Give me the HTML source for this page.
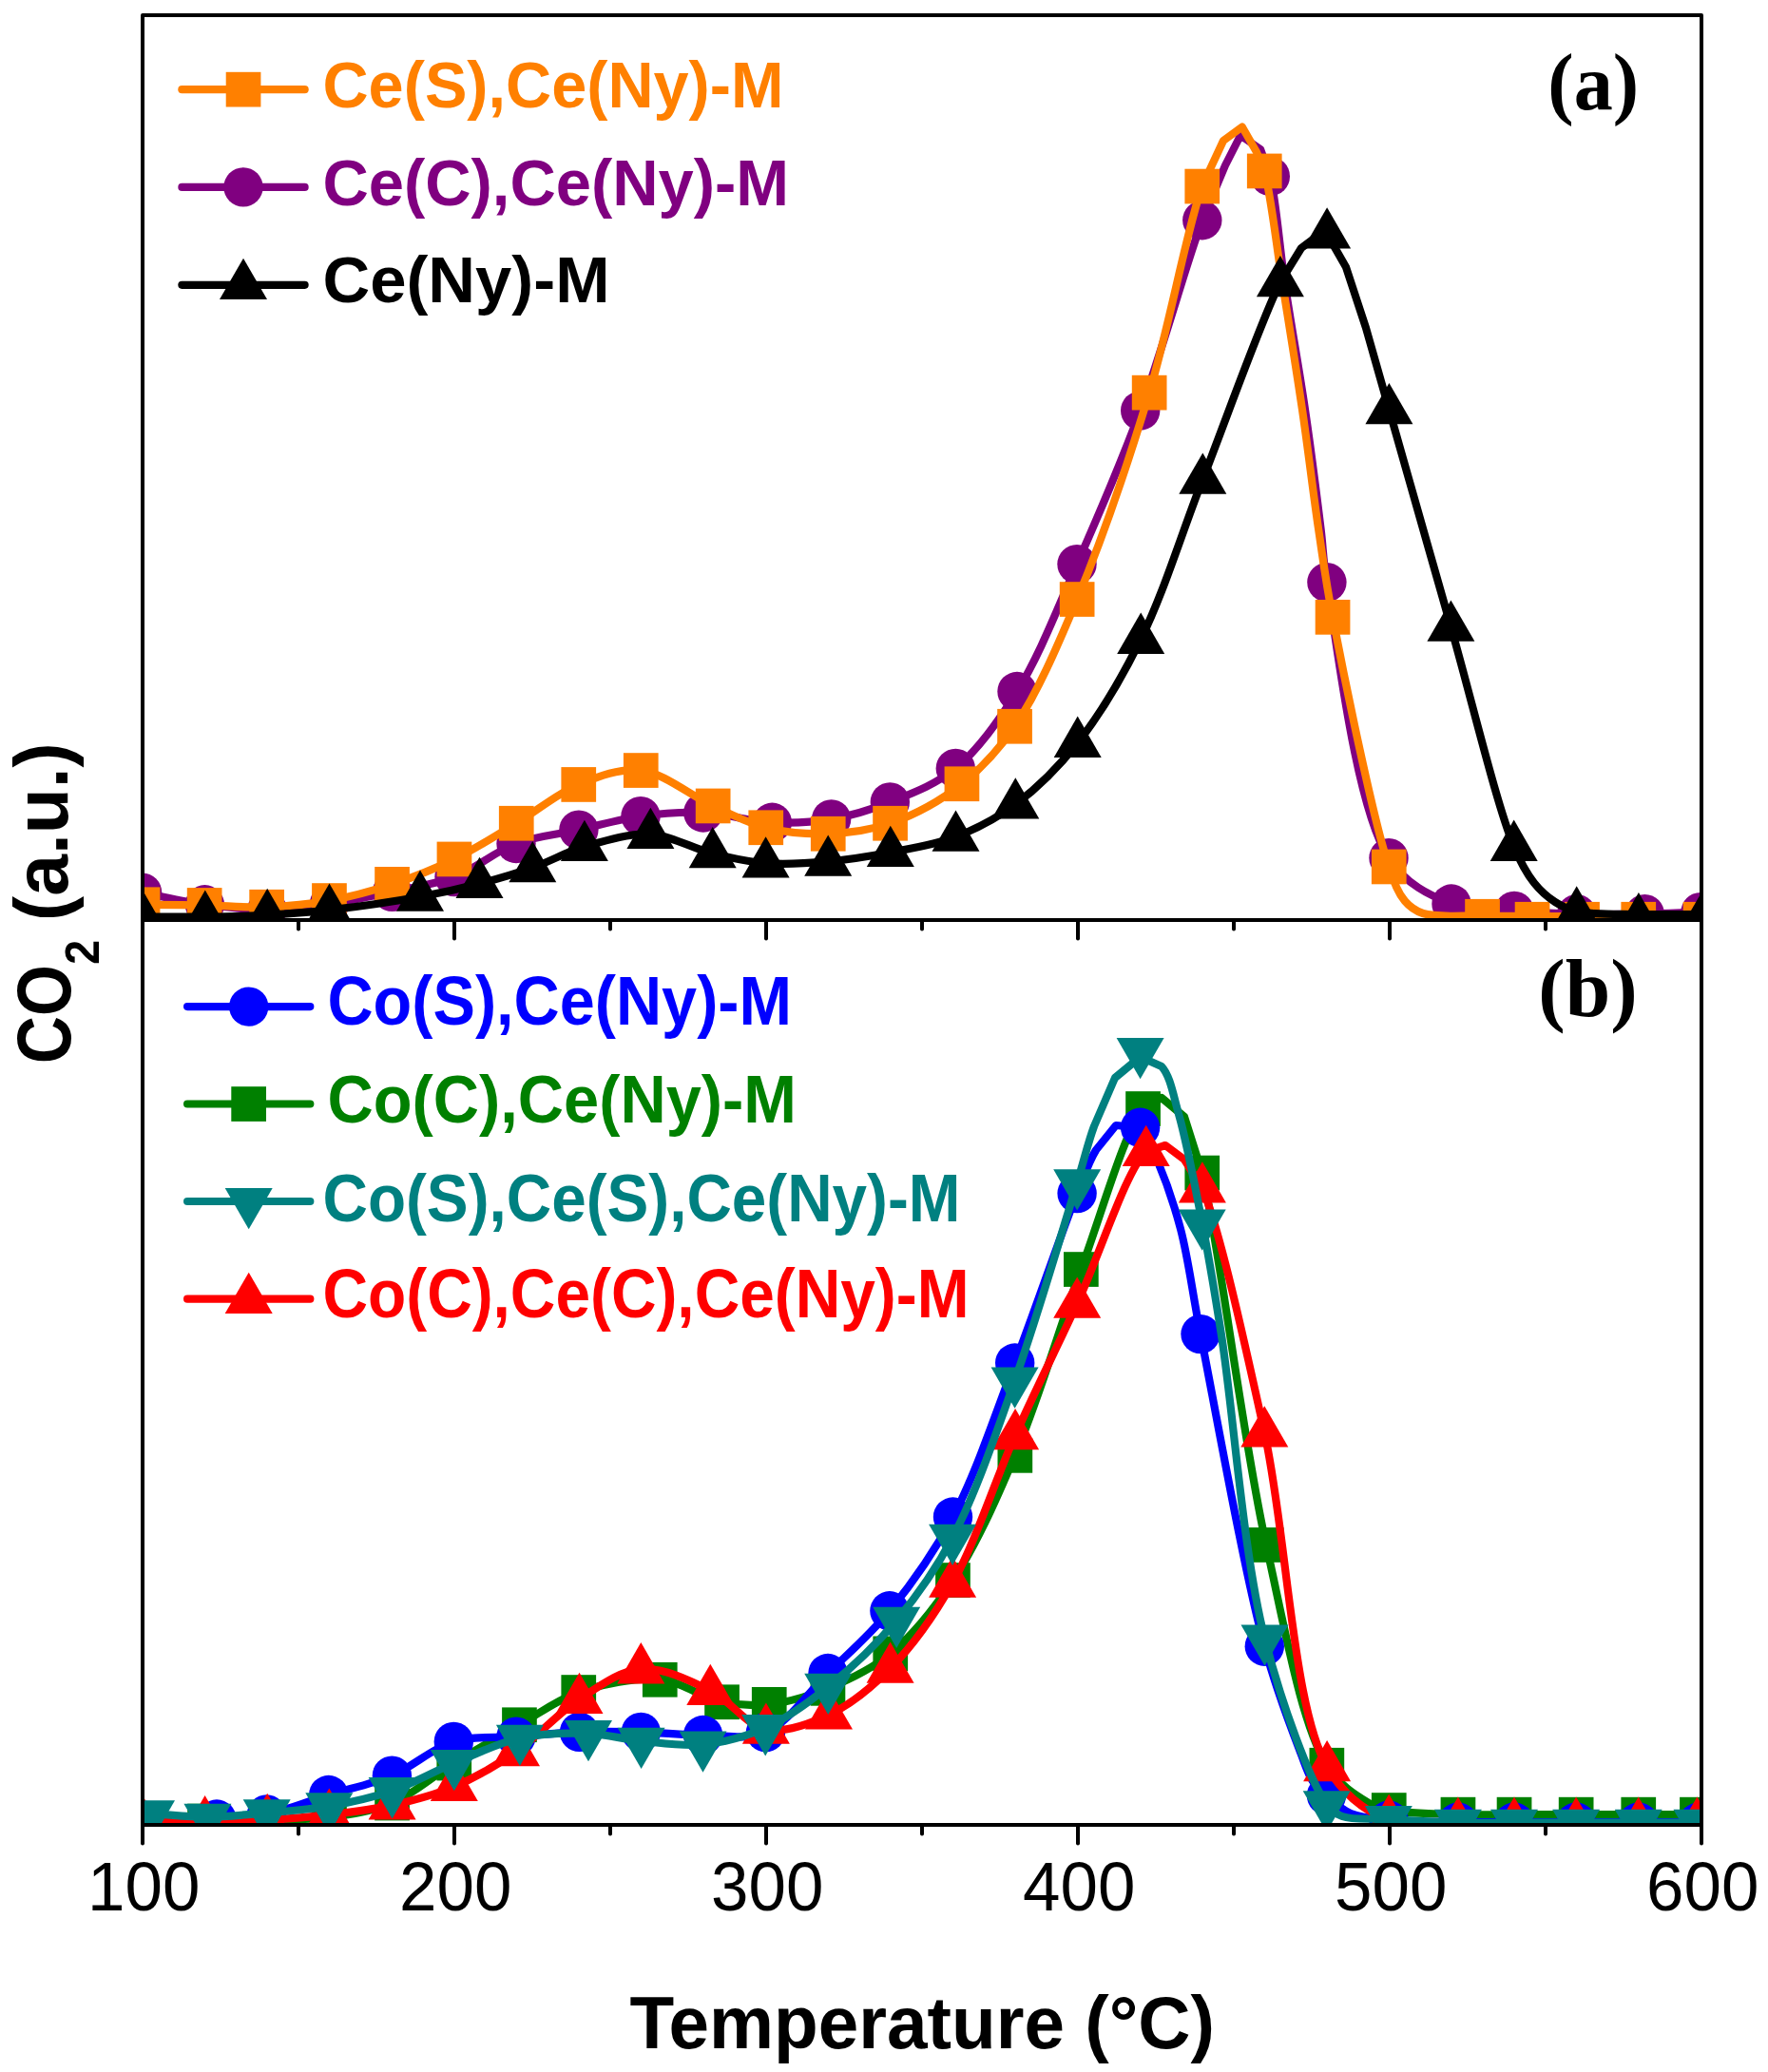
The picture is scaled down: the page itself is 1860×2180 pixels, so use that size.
<!DOCTYPE html>
<html><head><meta charset="utf-8"><title>CO2 TPD</title>
<style>html,body{margin:0;padding:0;background:#fff;}body{width:1860px;height:2180px;overflow:hidden;}svg{display:block;}</style>
</head><body><svg width="1860" height="2180" viewBox="0 0 1860 2180"><defs><clipPath id="ca"><rect x="150.0" y="16.0" width="1640.0" height="952.0"/></clipPath><clipPath id="cb"><rect x="150.0" y="968.0" width="1640.0" height="952.0"/></clipPath></defs><g clip-path="url(#ca)"><g fill="#800080"><path d="M140.0,938.0 C143.2,938.4 145.0,938.5 149.6,939.2 C161.7,941.1 193.4,948.8 215.4,951.8 C237.2,954.7 259.1,957.1 281.0,957.0 C302.8,956.9 324.7,954.1 346.5,951.0 C368.6,947.9 390.7,943.1 412.6,938.4 C434.5,933.7 456.7,930.7 478.0,922.6 C500.3,914.1 520.7,895.8 543.0,887.5 C564.3,879.6 587.0,877.9 608.9,873.1 C630.7,868.3 652.1,861.7 674.0,858.7 C695.8,855.7 717.4,854.0 739.8,855.0 C763.5,856.0 789.1,864.3 812.4,865.3 C833.9,866.2 854.1,865.4 874.6,861.9 C895.4,858.3 915.6,852.2 936.3,843.9 C959.1,834.8 984.3,825.6 1005.3,808.4 C1029.6,788.6 1050.3,759.2 1070.0,727.5 C1093.6,689.6 1112.3,640.6 1133.0,593.6 C1155.5,542.5 1178.6,489.2 1199.7,432.0 C1222.8,369.2 1247.6,278.1 1264.8,231.7 L1289.0,174.0 L1305.0,142.5 L1326.0,157.0 L1336.3,185.5 C1342.5,210.7 1346.1,260.6 1352.0,300.0 C1358.3,342.2 1366.7,387.8 1373.0,431.0 C1379.2,473.1 1385.4,522.5 1389.5,556.0 C1392.3,578.5 1391.5,586.6 1395.9,612.6 C1405.9,672.0 1426.0,849.3 1461.0,902.7 C1479.3,930.7 1503.7,941.9 1527.0,951.0 C1548.0,959.2 1571.0,956.6 1593.0,958.4 C1614.9,960.2 1636.3,961.1 1658.7,961.7 C1682.0,962.3 1707.6,962.1 1730.3,961.7 C1750.8,961.4 1777.2,959.9 1789.0,959.7 C1794.1,959.6 1796.3,959.7 1800.0,959.7" fill="none" stroke="#800080" stroke-width="8.2" stroke-linejoin="round" stroke-linecap="round"/><circle cx="149.6" cy="939.2" r="20.7"/><circle cx="215.4" cy="951.8" r="20.7"/><circle cx="281.0" cy="957.0" r="20.7"/><circle cx="346.5" cy="951.0" r="20.7"/><circle cx="412.6" cy="938.4" r="20.7"/><circle cx="478.0" cy="922.6" r="20.7"/><circle cx="543.0" cy="887.5" r="20.7"/><circle cx="608.9" cy="873.1" r="20.7"/><circle cx="674.0" cy="858.7" r="20.7"/><circle cx="739.8" cy="855.0" r="20.7"/><circle cx="812.4" cy="865.3" r="20.7"/><circle cx="874.6" cy="861.9" r="20.7"/><circle cx="936.3" cy="843.9" r="20.7"/><circle cx="1005.3" cy="808.4" r="20.7"/><circle cx="1070.0" cy="727.5" r="20.7"/><circle cx="1133.0" cy="593.6" r="20.7"/><circle cx="1199.7" cy="432.0" r="20.7"/><circle cx="1264.8" cy="231.7" r="20.7"/><circle cx="1336.3" cy="185.5" r="20.7"/><circle cx="1395.9" cy="612.6" r="20.7"/><circle cx="1461.0" cy="902.7" r="20.7"/><circle cx="1527.0" cy="951.0" r="20.7"/><circle cx="1593.0" cy="958.4" r="20.7"/><circle cx="1658.7" cy="961.7" r="20.7"/><circle cx="1730.3" cy="961.7" r="20.7"/><circle cx="1789.0" cy="959.7" r="20.7"/></g><g fill="#ff8000"><path d="M140.0,951.5 C143.3,951.6 145.2,951.7 150.0,951.8 C162.2,952.0 193.4,952.1 215.2,952.5 C237.0,952.9 258.9,955.1 280.7,954.3 C302.6,953.5 324.7,951.5 346.5,947.6 C368.7,943.6 390.9,937.6 412.6,930.4 C434.7,923.1 456.6,914.5 478.0,904.0 C500.1,893.2 521.5,879.3 543.2,866.3 C565.1,853.1 586.1,834.8 608.8,825.5 C629.9,816.8 652.1,808.0 674.2,810.6 C699.1,813.5 726.6,837.4 750.1,848.0 C769.9,856.9 786.1,865.8 805.8,870.7 C826.4,875.8 849.5,877.9 871.3,877.2 C893.1,876.5 914.7,873.8 936.6,866.2 C961.6,857.5 990.0,842.0 1012.0,824.7 C1033.5,807.8 1050.0,789.9 1067.5,764.3 C1091.1,729.7 1111.9,681.3 1133.1,630.6 C1159.5,567.6 1187.1,486.1 1209.1,413.2 C1230.8,341.2 1248.3,241.8 1264.7,196.0 L1287.0,148.0 L1306.8,133.5 L1322.0,160.0 L1330.2,179.9 C1336.7,202.9 1343.0,259.1 1349.5,300.0 C1356.3,342.7 1363.7,387.8 1370.0,431.0 C1376.2,473.1 1381.3,517.4 1387.0,556.0 C1392.0,589.4 1394.5,610.5 1402.0,649.4 C1414.6,715.0 1445.2,865.1 1461.2,912.0 C1467.3,930.0 1470.9,939.6 1478.0,948.0 C1483.4,954.4 1488.3,958.1 1497.0,961.0 C1511.4,965.8 1539.6,963.0 1559.5,963.5 C1577.8,964.0 1594.5,963.9 1612.0,964.0 C1629.5,964.1 1646.5,964.0 1664.5,964.0 C1683.6,964.0 1703.5,964.0 1723.7,964.0 C1744.9,964.0 1776.3,964.0 1789.0,964.0 C1794.2,964.0 1796.3,964.0 1800.0,964.0" fill="none" stroke="#ff8000" stroke-width="8.2" stroke-linejoin="round" stroke-linecap="round"/><rect x="131.7" y="933.4" width="36.7" height="36.7"/><rect x="196.8" y="934.1" width="36.7" height="36.7"/><rect x="262.3" y="935.9" width="36.7" height="36.7"/><rect x="328.1" y="929.2" width="36.7" height="36.7"/><rect x="394.2" y="912.0" width="36.7" height="36.7"/><rect x="459.6" y="885.6" width="36.7" height="36.7"/><rect x="524.9" y="847.9" width="36.7" height="36.7"/><rect x="590.4" y="807.1" width="36.7" height="36.7"/><rect x="655.9" y="792.2" width="36.7" height="36.7"/><rect x="731.8" y="829.6" width="36.7" height="36.7"/><rect x="787.4" y="852.4" width="36.7" height="36.7"/><rect x="852.9" y="858.9" width="36.7" height="36.7"/><rect x="918.2" y="847.9" width="36.7" height="36.7"/><rect x="993.6" y="806.4" width="36.7" height="36.7"/><rect x="1049.2" y="745.9" width="36.7" height="36.7"/><rect x="1114.8" y="612.2" width="36.7" height="36.7"/><rect x="1190.8" y="394.8" width="36.7" height="36.7"/><rect x="1246.4" y="177.7" width="36.7" height="36.7"/><rect x="1311.9" y="161.6" width="36.7" height="36.7"/><rect x="1383.7" y="631.0" width="36.7" height="36.7"/><rect x="1442.9" y="893.6" width="36.7" height="36.7"/><rect x="1541.2" y="945.9" width="36.7" height="36.7"/><rect x="1593.7" y="948.9" width="36.7" height="36.7"/><rect x="1646.2" y="948.9" width="36.7" height="36.7"/><rect x="1705.4" y="948.9" width="36.7" height="36.7"/><rect x="1770.7" y="948.9" width="36.7" height="36.7"/></g><g fill="#000000"><path d="M140.0,964.5 C143.3,964.5 145.2,964.5 150.0,964.5 C162.3,964.5 193.9,964.9 215.8,964.6 C237.6,964.3 259.4,964.0 281.2,962.8 C303.0,961.6 322.7,960.1 346.5,957.4 C375.4,954.1 413.6,948.7 442.0,943.5 C465.1,939.3 484.4,934.9 504.5,929.7 C523.7,924.7 541.9,919.4 560.3,912.9 C578.8,906.4 595.3,896.5 614.9,890.8 C636.4,884.5 661.8,876.5 684.4,877.8 C706.7,879.1 728.6,892.8 749.7,898.0 C768.9,902.7 786.1,906.7 805.6,908.2 C826.5,909.8 849.4,908.3 871.2,906.4 C893.1,904.5 914.8,901.0 936.8,896.8 C959.5,892.4 983.6,888.8 1005.5,880.4 C1027.5,872.0 1048.2,861.2 1068.3,846.3 C1091.1,829.3 1113.3,807.4 1133.7,781.6 C1157.8,751.2 1179.8,713.9 1200.2,672.6 C1224.4,623.5 1242.3,563.4 1265.3,504.4 C1290.9,438.8 1326.8,337.0 1346.9,296.9 L1369.0,261.0 L1385.0,249.0 L1396.1,246.2 L1416.0,281.0 L1437.0,345.0 L1461.4,430.9 C1477.9,488.8 1504.6,583.1 1526.4,659.5 C1548.3,736.3 1574.4,846.6 1592.7,890.6 C1600.5,909.4 1605.9,918.8 1614.0,929.0 C1620.7,937.4 1628.2,943.9 1636.0,949.0 C1643.2,953.6 1648.9,956.7 1658.7,959.0 C1674.6,962.7 1702.1,961.5 1723.9,962.0 C1745.9,962.5 1777.7,962.0 1790.0,962.0 C1794.8,962.0 1796.7,962.0 1800.0,962.0" fill="none" stroke="#000000" stroke-width="8.2" stroke-linejoin="round" stroke-linecap="round"/><polygon points="150.0,936.5 125.0,979.8 175.0,979.8"/><polygon points="215.8,936.6 190.8,979.9 240.8,979.9"/><polygon points="281.2,934.8 256.2,978.1 306.2,978.1"/><polygon points="346.5,929.4 321.5,972.7 371.5,972.7"/><polygon points="442.0,915.5 417.0,958.8 467.0,958.8"/><polygon points="504.5,901.7 479.5,945.0 529.5,945.0"/><polygon points="560.3,884.9 535.3,928.2 585.3,928.2"/><polygon points="614.9,862.8 589.9,906.1 639.9,906.1"/><polygon points="684.4,849.8 659.4,893.1 709.4,893.1"/><polygon points="749.7,870.0 724.7,913.3 774.7,913.3"/><polygon points="805.6,880.2 780.6,923.5 830.6,923.5"/><polygon points="871.2,878.4 846.2,921.7 896.2,921.7"/><polygon points="936.8,868.8 911.8,912.1 961.8,912.1"/><polygon points="1005.5,852.4 980.5,895.7 1030.5,895.7"/><polygon points="1068.3,818.3 1043.3,861.6 1093.3,861.6"/><polygon points="1133.7,753.6 1108.7,796.9 1158.7,796.9"/><polygon points="1200.2,644.6 1175.2,687.9 1225.2,687.9"/><polygon points="1265.3,476.4 1240.3,519.7 1290.3,519.7"/><polygon points="1346.9,268.9 1321.9,312.2 1371.9,312.2"/><polygon points="1396.1,218.2 1371.1,261.5 1421.1,261.5"/><polygon points="1461.4,402.9 1436.4,446.2 1486.4,446.2"/><polygon points="1526.4,631.5 1501.4,674.8 1551.4,674.8"/><polygon points="1592.7,862.6 1567.7,905.9 1617.7,905.9"/><polygon points="1658.7,932.3 1633.7,975.6 1683.7,975.6"/><polygon points="1723.9,939.0 1698.9,982.3 1748.9,982.3"/><polygon points="1790.0,939.0 1765.0,982.3 1815.0,982.3"/></g></g><g clip-path="url(#cb)"><g fill="#008000"><path d="M140.0,1912.0 C143.3,1913.3 145.1,1915.1 150.0,1916.0 C162.1,1918.3 193.7,1916.2 215.5,1916.0 C237.3,1915.8 259.2,1915.7 281.0,1915.0 C302.8,1914.3 324.7,1914.9 346.5,1912.0 C368.6,1909.0 391.4,1905.9 412.6,1897.0 C435.3,1887.5 455.6,1868.6 477.8,1855.0 C500.3,1841.2 524.1,1827.4 546.5,1814.7 C567.7,1802.7 585.6,1788.4 608.8,1780.5 C634.3,1771.8 667.9,1764.7 694.2,1767.2 C717.8,1769.5 739.0,1786.6 759.6,1790.7 C777.0,1794.2 792.0,1795.2 809.3,1793.3 C828.9,1791.2 850.6,1784.6 871.0,1776.3 C893.1,1767.3 916.3,1756.6 936.8,1739.8 C960.6,1720.3 982.3,1693.2 1002.5,1662.6 C1026.8,1625.8 1047.1,1580.1 1067.8,1531.3 C1092.5,1473.2 1114.1,1398.2 1137.3,1335.5 C1159.0,1276.9 1183.4,1189.2 1202.6,1166.5 L1222.0,1155.0 L1246.0,1175.0 L1264.7,1234.0 C1282.4,1306.6 1306.9,1512.5 1332.1,1625.4 C1351.7,1713.3 1369.0,1813.7 1395.8,1857.2 C1409.1,1878.8 1427.3,1889.4 1440.0,1897.0 C1447.8,1901.7 1451.8,1902.6 1461.2,1904.5 C1478.0,1907.9 1510.9,1908.4 1533.9,1909.1 C1554.6,1909.8 1572.8,1909.1 1593.0,1909.1 C1614.2,1909.1 1636.4,1909.1 1658.1,1909.1 C1679.9,1909.1 1702.2,1909.1 1723.7,1909.1 C1744.6,1909.1 1771.9,1909.1 1785.4,1909.1 C1791.9,1909.1 1795.1,1909.0 1800.0,1909.0" fill="none" stroke="#008000" stroke-width="8.2" stroke-linejoin="round" stroke-linecap="round"/><rect x="131.7" y="1897.7" width="36.7" height="36.7"/><rect x="197.2" y="1897.7" width="36.7" height="36.7"/><rect x="262.6" y="1896.7" width="36.7" height="36.7"/><rect x="328.1" y="1893.7" width="36.7" height="36.7"/><rect x="394.2" y="1878.7" width="36.7" height="36.7"/><rect x="459.4" y="1836.7" width="36.7" height="36.7"/><rect x="528.1" y="1796.4" width="36.7" height="36.7"/><rect x="590.4" y="1762.2" width="36.7" height="36.7"/><rect x="675.9" y="1748.9" width="36.7" height="36.7"/><rect x="741.2" y="1772.4" width="36.7" height="36.7"/><rect x="790.9" y="1775.0" width="36.7" height="36.7"/><rect x="852.6" y="1758.0" width="36.7" height="36.7"/><rect x="918.4" y="1721.5" width="36.7" height="36.7"/><rect x="984.1" y="1644.2" width="36.7" height="36.7"/><rect x="1049.5" y="1513.0" width="36.7" height="36.7"/><rect x="1119.0" y="1317.2" width="36.7" height="36.7"/><rect x="1184.2" y="1148.2" width="36.7" height="36.7"/><rect x="1246.4" y="1215.7" width="36.7" height="36.7"/><rect x="1313.8" y="1607.1" width="36.7" height="36.7"/><rect x="1377.5" y="1838.9" width="36.7" height="36.7"/><rect x="1442.9" y="1886.2" width="36.7" height="36.7"/><rect x="1515.6" y="1890.8" width="36.7" height="36.7"/><rect x="1574.7" y="1890.8" width="36.7" height="36.7"/><rect x="1639.8" y="1890.8" width="36.7" height="36.7"/><rect x="1705.4" y="1890.8" width="36.7" height="36.7"/><rect x="1767.1" y="1890.8" width="36.7" height="36.7"/></g><g fill="#0000ff"><path d="M140.0,1915.0 C143.3,1915.0 145.1,1915.0 150.0,1915.0 C163.7,1914.9 204.6,1915.3 228.0,1914.0 C247.3,1912.9 262.3,1912.6 280.5,1908.9 C301.3,1904.7 323.8,1895.2 345.7,1888.5 C367.8,1881.7 390.8,1877.3 412.4,1868.2 C434.7,1858.8 454.8,1839.1 477.3,1832.4 C498.5,1826.0 521.0,1828.9 543.0,1827.2 C565.1,1825.5 587.5,1823.2 609.5,1822.4 C631.2,1821.6 652.7,1821.9 674.3,1822.4 C696.0,1822.9 717.8,1825.5 739.6,1825.5 C761.5,1825.5 785.1,1831.3 805.5,1822.6 C829.4,1812.5 849.4,1781.7 871.0,1760.5 C892.9,1739.1 915.2,1720.0 935.9,1694.8 C959.4,1666.2 982.2,1634.2 1002.5,1596.0 C1027.0,1549.7 1046.4,1489.5 1067.7,1434.0 C1089.9,1376.1 1117.1,1295.4 1133.1,1255.6 C1141.3,1235.2 1145.3,1222.7 1153.0,1210.0 L1174.0,1184.0 L1199.6,1186.3 L1218.0,1222.0 C1226.2,1241.4 1235.0,1266.5 1242.0,1293.0 C1250.5,1325.5 1253.8,1357.0 1263.0,1403.6 C1278.9,1484.1 1308.4,1651.5 1330.3,1732.2 C1343.4,1780.5 1359.4,1821.0 1369.0,1846.0 C1373.8,1858.6 1376.0,1866.5 1381.0,1874.0 C1385.1,1880.2 1389.7,1883.9 1395.5,1889.0 C1402.6,1895.2 1411.0,1903.7 1421.0,1908.0 C1432.4,1912.9 1445.6,1913.5 1461.0,1915.0 C1481.6,1917.1 1510.9,1916.7 1533.9,1917.0 C1554.6,1917.3 1572.8,1917.0 1593.0,1917.0 C1614.2,1917.0 1636.4,1917.0 1658.1,1917.0 C1679.9,1917.0 1702.0,1917.0 1723.7,1917.0 C1745.0,1917.0 1773.8,1917.0 1787.0,1917.0 C1793.0,1917.0 1795.7,1917.0 1800.0,1917.0" fill="none" stroke="#0000ff" stroke-width="8.2" stroke-linejoin="round" stroke-linecap="round"/><circle cx="150.0" cy="1915.0" r="20.7"/><circle cx="228.0" cy="1914.0" r="20.7"/><circle cx="280.5" cy="1908.9" r="20.7"/><circle cx="345.7" cy="1888.5" r="20.7"/><circle cx="412.4" cy="1868.2" r="20.7"/><circle cx="477.3" cy="1832.4" r="20.7"/><circle cx="543.0" cy="1827.2" r="20.7"/><circle cx="609.5" cy="1822.4" r="20.7"/><circle cx="674.3" cy="1822.4" r="20.7"/><circle cx="739.6" cy="1825.5" r="20.7"/><circle cx="805.5" cy="1822.6" r="20.7"/><circle cx="871.0" cy="1760.5" r="20.7"/><circle cx="935.9" cy="1694.8" r="20.7"/><circle cx="1002.5" cy="1596.0" r="20.7"/><circle cx="1067.7" cy="1434.0" r="20.7"/><circle cx="1133.1" cy="1255.6" r="20.7"/><circle cx="1199.6" cy="1186.3" r="20.7"/><circle cx="1263.0" cy="1403.6" r="20.7"/><circle cx="1330.3" cy="1732.2" r="20.7"/><circle cx="1395.5" cy="1889.0" r="20.7"/><circle cx="1461.0" cy="1915.0" r="20.7"/><circle cx="1533.9" cy="1917.0" r="20.7"/><circle cx="1593.0" cy="1917.0" r="20.7"/><circle cx="1658.1" cy="1917.0" r="20.7"/><circle cx="1723.7" cy="1917.0" r="20.7"/><circle cx="1787.0" cy="1917.0" r="20.7"/></g><g fill="#ff0000"><path d="M140.0,1917.0 C143.3,1917.0 145.2,1917.0 150.0,1917.0 C162.3,1917.0 193.7,1917.3 215.6,1916.9 C237.5,1916.5 259.4,1916.1 281.2,1914.8 C303.0,1913.6 324.5,1912.0 346.3,1909.4 C368.3,1906.8 390.8,1904.2 412.6,1899.3 C434.6,1894.4 456.6,1888.8 477.8,1879.8 C500.1,1870.3 521.8,1857.6 543.0,1843.0 C565.8,1827.3 586.6,1802.5 609.5,1787.7 C630.5,1774.2 651.7,1757.8 674.3,1756.1 C697.6,1754.3 725.1,1767.8 747.3,1778.7 C768.8,1789.2 784.8,1815.4 805.9,1819.5 C826.5,1823.5 851.1,1814.0 872.0,1804.2 C894.9,1793.5 916.4,1775.9 936.6,1755.4 C960.3,1731.3 982.1,1700.9 1002.1,1665.5 C1026.8,1621.9 1045.7,1560.1 1068.1,1510.0 C1089.4,1462.3 1111.1,1419.4 1133.2,1371.5 C1156.9,1320.2 1185.1,1230.2 1205.7,1211.7 L1226.0,1205.0 L1246.0,1220.0 L1264.9,1250.2 C1283.3,1293.3 1309.8,1414.6 1330.3,1507.3 C1354.0,1615.0 1359.3,1794.5 1396.1,1858.9 C1414.2,1890.5 1437.1,1906.0 1461.2,1915.6 C1483.4,1924.4 1510.9,1918.0 1533.9,1918.4 C1554.6,1918.8 1572.8,1918.4 1593.0,1918.4 C1614.2,1918.4 1636.4,1918.4 1658.1,1918.4 C1679.9,1918.4 1702.2,1918.4 1723.7,1918.4 C1744.6,1918.4 1771.9,1918.6 1785.4,1918.4 C1791.9,1918.3 1795.1,1918.1 1800.0,1918.0" fill="none" stroke="#ff0000" stroke-width="8.2" stroke-linejoin="round" stroke-linecap="round"/><polygon points="150.0,1889.0 125.0,1932.3 175.0,1932.3"/><polygon points="215.6,1888.9 190.6,1932.2 240.6,1932.2"/><polygon points="281.2,1886.8 256.2,1930.1 306.2,1930.1"/><polygon points="346.3,1881.4 321.3,1924.7 371.3,1924.7"/><polygon points="412.6,1871.3 387.6,1914.6 437.6,1914.6"/><polygon points="477.8,1851.8 452.8,1895.1 502.8,1895.1"/><polygon points="543.0,1815.0 518.0,1858.3 568.0,1858.3"/><polygon points="609.5,1759.7 584.5,1803.0 634.5,1803.0"/><polygon points="674.3,1728.1 649.3,1771.4 699.3,1771.4"/><polygon points="747.3,1750.7 722.3,1794.0 772.3,1794.0"/><polygon points="805.9,1791.5 780.9,1834.8 830.9,1834.8"/><polygon points="872.0,1776.2 847.0,1819.5 897.0,1819.5"/><polygon points="936.6,1727.4 911.6,1770.7 961.6,1770.7"/><polygon points="1002.1,1637.5 977.1,1680.8 1027.1,1680.8"/><polygon points="1068.1,1482.0 1043.1,1525.3 1093.1,1525.3"/><polygon points="1133.2,1343.5 1108.2,1386.8 1158.2,1386.8"/><polygon points="1205.7,1183.7 1180.7,1227.0 1230.7,1227.0"/><polygon points="1264.9,1222.2 1239.9,1265.5 1289.9,1265.5"/><polygon points="1330.3,1479.3 1305.3,1522.6 1355.3,1522.6"/><polygon points="1396.1,1830.9 1371.1,1874.2 1421.1,1874.2"/><polygon points="1461.2,1887.6 1436.2,1930.9 1486.2,1930.9"/><polygon points="1533.9,1890.4 1508.9,1933.7 1558.9,1933.7"/><polygon points="1593.0,1890.4 1568.0,1933.7 1618.0,1933.7"/><polygon points="1658.1,1890.4 1633.1,1933.7 1683.1,1933.7"/><polygon points="1723.7,1890.4 1698.7,1933.7 1748.7,1933.7"/><polygon points="1785.4,1890.4 1760.4,1933.7 1810.4,1933.7"/></g><g fill="#008080"><path d="M140.0,1908.0 C146.3,1908.1 150.9,1908.0 159.0,1908.3 C173.3,1908.8 198.4,1911.8 218.4,1911.7 C238.9,1911.6 259.7,1909.2 280.7,1907.3 C302.3,1905.4 324.5,1904.1 346.3,1900.3 C368.5,1896.4 390.9,1891.5 412.6,1884.1 C434.8,1876.5 455.6,1864.1 477.8,1855.0 C500.4,1845.7 523.2,1834.0 546.9,1828.8 C570.3,1823.7 596.6,1823.2 619.0,1824.0 C638.8,1824.7 655.3,1829.8 674.6,1831.7 C695.4,1833.7 718.0,1837.6 739.5,1835.4 C761.5,1833.2 784.0,1827.5 805.2,1818.1 C828.0,1807.9 849.5,1792.1 871.2,1774.7 C895.6,1755.1 921.6,1730.6 943.2,1704.8 C965.3,1678.4 983.7,1652.6 1002.1,1617.8 C1026.0,1572.5 1046.8,1511.2 1067.6,1452.5 C1090.7,1387.5 1118.3,1292.6 1133.2,1244.3 C1141.1,1218.6 1144.1,1203.8 1151.0,1185.0 L1173.0,1134.0 L1199.6,1112.0 L1222.0,1122.0 C1231.0,1131.7 1234.2,1151.7 1240.0,1172.0 C1248.6,1202.1 1257.2,1247.8 1264.7,1286.4 C1272.3,1325.5 1277.3,1355.8 1285.0,1405.0 C1297.6,1485.4 1307.7,1634.2 1330.5,1723.5 C1347.8,1791.5 1378.0,1874.0 1395.7,1898.2 C1401.6,1906.3 1404.5,1908.2 1412.0,1911.0 C1423.5,1915.4 1442.9,1913.0 1460.8,1914.0 C1482.7,1915.2 1510.8,1917.1 1533.9,1917.7 C1554.6,1918.2 1572.8,1917.7 1593.0,1917.7 C1614.2,1917.7 1636.4,1917.7 1658.1,1917.7 C1679.9,1917.7 1702.2,1917.7 1723.7,1917.7 C1744.6,1917.7 1771.9,1917.7 1785.4,1917.7 C1791.9,1917.7 1795.1,1917.7 1800.0,1917.7" fill="none" stroke="#008080" stroke-width="8.2" stroke-linejoin="round" stroke-linecap="round"/><polygon points="134.0,1894.3 184.0,1894.3 159.0,1937.6"/><polygon points="193.4,1897.7 243.4,1897.7 218.4,1941.0"/><polygon points="255.7,1893.3 305.7,1893.3 280.7,1936.6"/><polygon points="321.3,1886.3 371.3,1886.3 346.3,1929.6"/><polygon points="387.6,1870.1 437.6,1870.1 412.6,1913.4"/><polygon points="452.8,1841.0 502.8,1841.0 477.8,1884.3"/><polygon points="521.9,1814.8 571.9,1814.8 546.9,1858.1"/><polygon points="594.0,1810.0 644.0,1810.0 619.0,1853.3"/><polygon points="649.6,1817.7 699.6,1817.7 674.6,1861.0"/><polygon points="714.5,1821.4 764.5,1821.4 739.5,1864.7"/><polygon points="780.2,1804.1 830.2,1804.1 805.2,1847.4"/><polygon points="846.2,1760.7 896.2,1760.7 871.2,1804.0"/><polygon points="918.2,1690.8 968.2,1690.8 943.2,1734.1"/><polygon points="977.1,1603.8 1027.1,1603.8 1002.1,1647.1"/><polygon points="1042.6,1438.5 1092.6,1438.5 1067.6,1481.8"/><polygon points="1108.2,1230.3 1158.2,1230.3 1133.2,1273.6"/><polygon points="1174.6,1092.0 1224.6,1092.0 1199.6,1135.3"/><polygon points="1239.7,1272.4 1289.7,1272.4 1264.7,1315.7"/><polygon points="1305.5,1709.5 1355.5,1709.5 1330.5,1752.8"/><polygon points="1370.7,1884.2 1420.7,1884.2 1395.7,1927.5"/><polygon points="1435.8,1900.0 1485.8,1900.0 1460.8,1943.3"/><polygon points="1508.9,1903.7 1558.9,1903.7 1533.9,1947.0"/><polygon points="1568.0,1903.7 1618.0,1903.7 1593.0,1947.0"/><polygon points="1633.1,1903.7 1683.1,1903.7 1658.1,1947.0"/><polygon points="1698.7,1903.7 1748.7,1903.7 1723.7,1947.0"/><polygon points="1760.4,1903.7 1810.4,1903.7 1785.4,1947.0"/></g></g><g stroke="#000" stroke-width="4.0" fill="none" stroke-linecap="round" stroke-linejoin="round"><path d="M150.0,16.0 L1790.0,16.0 L1790.0,1920.0 L150.0,1920.0 Z"/><path d="M150.0,968.0 L1790.0,968.0"/><path d="M150.0,968.0 V987.5"/><path d="M150.0,1920.0 V1939.5"/><path d="M314.0,968.0 V977.5"/><path d="M314.0,1920.0 V1929.5"/><path d="M478.0,968.0 V987.5"/><path d="M478.0,1920.0 V1939.5"/><path d="M642.0,968.0 V977.5"/><path d="M642.0,1920.0 V1929.5"/><path d="M806.0,968.0 V987.5"/><path d="M806.0,1920.0 V1939.5"/><path d="M970.0,968.0 V977.5"/><path d="M970.0,1920.0 V1929.5"/><path d="M1134.0,968.0 V987.5"/><path d="M1134.0,1920.0 V1939.5"/><path d="M1298.0,968.0 V977.5"/><path d="M1298.0,1920.0 V1929.5"/><path d="M1462.0,968.0 V987.5"/><path d="M1462.0,1920.0 V1939.5"/><path d="M1626.0,968.0 V977.5"/><path d="M1626.0,1920.0 V1929.5"/><path d="M1790.0,968.0 V987.5"/><path d="M1790.0,1920.0 V1939.5"/></g><g font-family='"Liberation Sans", Arial, sans-serif' font-size="71.4" fill="#000" text-anchor="middle"><text x="151.2" y="2010" textLength="118.3" lengthAdjust="spacingAndGlyphs">100</text><text x="479.2" y="2010" textLength="118.3" lengthAdjust="spacingAndGlyphs">200</text><text x="807.2" y="2010" textLength="118.3" lengthAdjust="spacingAndGlyphs">300</text><text x="1135.2" y="2010" textLength="118.3" lengthAdjust="spacingAndGlyphs">400</text><text x="1463.2" y="2010" textLength="118.3" lengthAdjust="spacingAndGlyphs">500</text><text x="1791.2" y="2010" textLength="118.3" lengthAdjust="spacingAndGlyphs">600</text></g><text x="662.50" y="2155.00" font-family='"Liberation Sans", Arial, sans-serif' font-weight="bold" font-size="78.56" textLength="615.51" lengthAdjust="spacingAndGlyphs">Temperature (°C)</text><g transform="translate(0,1116) rotate(-90)"><text x="-3.00" y="73.50" font-family='"Liberation Sans", Arial, sans-serif' font-weight="bold" font-size="79.30" textLength="103.73" lengthAdjust="spacingAndGlyphs">CO</text><text x="101.00" y="103.50" font-family='"Liberation Sans", Arial, sans-serif' font-weight="bold" font-size="50.27" textLength="26.22" lengthAdjust="spacingAndGlyphs">2</text><text x="147.00" y="71.00" font-family='"Liberation Sans", Arial, sans-serif' font-weight="bold" font-size="78.94" textLength="187.76" lengthAdjust="spacingAndGlyphs">(a.u.)</text></g><text x="1628.37" y="115.00" font-family='"Liberation Serif", "Times New Roman", serif' font-weight="bold" font-size="84.90" textLength="95.76" lengthAdjust="spacingAndGlyphs">(a)</text><text x="1618.31" y="1069.00" font-family='"Liberation Serif", "Times New Roman", serif' font-weight="bold" font-size="86.07" textLength="104.37" lengthAdjust="spacingAndGlyphs">(b)</text><g fill="#ff8000"><path d="M191.4,94.2 H320.6" stroke="#ff8000" stroke-width="8.2" stroke-linecap="round"/><rect x="237.7" y="75.8" width="36.7" height="36.7"/><text x="339.50" y="113.00" font-family='"Liberation Sans", Arial, sans-serif' font-weight="bold" font-size="69.42" textLength="485.00" lengthAdjust="spacingAndGlyphs">Ce(S),Ce(Ny)-M</text></g><g fill="#800080"><path d="M191.4,196.9 H320.6" stroke="#800080" stroke-width="8.2" stroke-linecap="round"/><circle cx="256.0" cy="196.9" r="20.7"/><text x="339.50" y="215.50" font-family='"Liberation Sans", Arial, sans-serif' font-weight="bold" font-size="69.36" textLength="490.51" lengthAdjust="spacingAndGlyphs">Ce(C),Ce(Ny)-M</text></g><g fill="#000000"><path d="M191.4,299.8 H320.6" stroke="#000000" stroke-width="8.2" stroke-linecap="round"/><polygon points="256.0,271.8 231.0,315.1 281.0,315.1"/><text x="339.48" y="318.00" font-family='"Liberation Sans", Arial, sans-serif' font-weight="bold" font-size="68.62" textLength="302.06" lengthAdjust="spacingAndGlyphs">Ce(Ny)-M</text></g><g fill="#0000ff"><path d="M197.1,1059.1 H326.3" stroke="#0000ff" stroke-width="8.2" stroke-linecap="round"/><circle cx="261.7" cy="1059.1" r="20.7"/><text x="344.49" y="1078.00" font-family='"Liberation Sans", Arial, sans-serif' font-weight="bold" font-size="71.74" textLength="488.52" lengthAdjust="spacingAndGlyphs">Co(S),Ce(Ny)-M</text></g><g fill="#008000"><path d="M197.1,1161.5 H326.3" stroke="#008000" stroke-width="8.2" stroke-linecap="round"/><rect x="243.3" y="1143.2" width="36.7" height="36.7"/><text x="344.48" y="1181.00" font-family='"Liberation Sans", Arial, sans-serif' font-weight="bold" font-size="70.29" textLength="493.55" lengthAdjust="spacingAndGlyphs">Co(C),Ce(Ny)-M</text></g><g fill="#008080"><path d="M197.1,1264.0 H326.3" stroke="#008080" stroke-width="8.2" stroke-linecap="round"/><polygon points="236.7,1250.0 286.7,1250.0 261.7,1293.3"/><text x="339.49" y="1284.50" font-family='"Liberation Sans", Arial, sans-serif' font-weight="bold" font-size="71.01" textLength="671.03" lengthAdjust="spacingAndGlyphs">Co(S),Ce(S),Ce(Ny)-M</text></g><g fill="#ff0000"><path d="M197.1,1366.7 H326.3" stroke="#ff0000" stroke-width="8.2" stroke-linecap="round"/><polygon points="261.7,1338.7 236.7,1382.0 286.7,1382.0"/><text x="339.49" y="1385.50" font-family='"Liberation Sans", Arial, sans-serif' font-weight="bold" font-size="71.74" textLength="680.03" lengthAdjust="spacingAndGlyphs">Co(C),Ce(C),Ce(Ny)-M</text></g></svg></body></html>
